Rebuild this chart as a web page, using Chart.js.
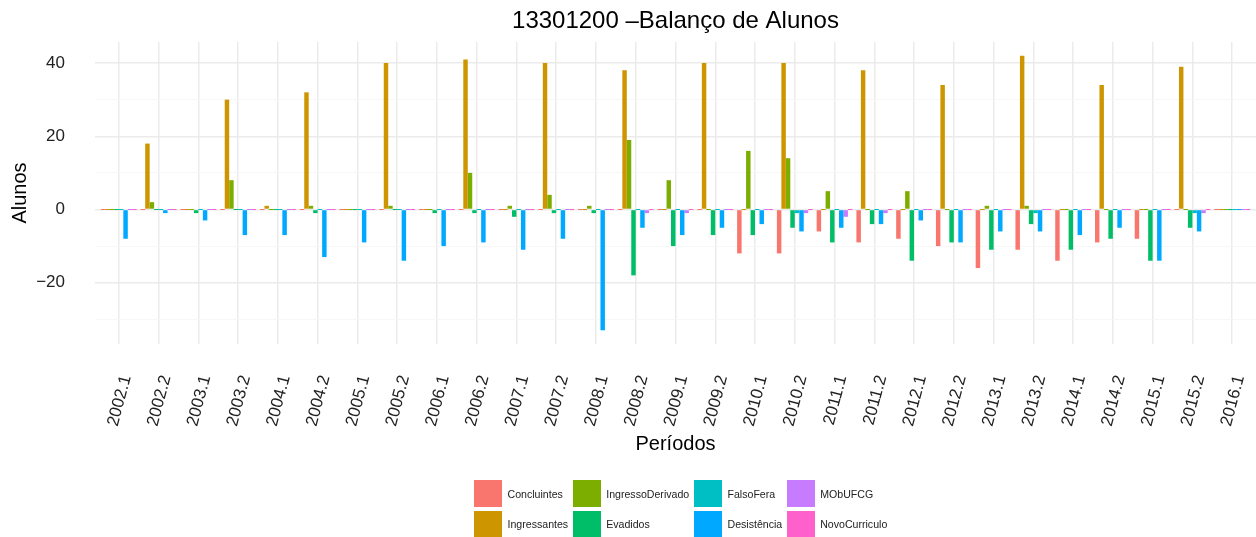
<!DOCTYPE html>
<html>
<head>
<meta charset="utf-8">
<script src="https://cdn.jsdelivr.net/npm/chart.js@4"></script>
<style>
  body { margin: 0; background: #fff; }
  #wrap { position: relative; width: 1256px; height: 537px; }
  #legend {
    position: absolute; left: 474px; top: 480px;
    display: grid; grid-auto-flow: column;
    grid-template-rows: 27px 27px; row-gap: 3.5px;
    grid-template-columns: 98.7px 121.3px 92.7px auto;
    font: 10.6px "Liberation Sans", Arial, sans-serif; color: #222;
  }
  .item { display: flex; align-items: center; }
  .box { width: 28px; height: 27px; margin-right: 5.5px; }
</style>
</head>
<body>
<div id="wrap">
  <canvas id="grafico" width="1256" height="537"></canvas>
  <div id="legend"></div>
</div>
<script>
// Dados
const PERIODOS = ['2002.1', '2002.2', '2003.1', '2003.2', '2004.1', '2004.2', '2005.1', '2005.2',
  '2006.1', '2006.2', '2007.1', '2007.2', '2008.1', '2008.2', '2009.1', '2009.2', '2010.1', '2010.2',
  '2011.1', '2011.2', '2012.1', '2012.2', '2013.1', '2013.2', '2014.1', '2014.2', '2015.1', '2015.2', '2016.1'];

const SERIES = ['Concluintes', 'Ingressantes', 'IngressoDerivado', 'Evadidos',
  'FalsoFera', 'Desistência', 'MObUFCG', 'NovoCurriculo'];

const concluintes      = [0, 0, 0, 0, 0, 0, 0, 0, 0, 0, 0, 0, 0, 0, 0, 0, -12, -12, -6, -9, -8, -10, -16, -11, -14, -9, -8, 0, 0];
const ingressantes     = [0, 18, 0, 30, 1, 32, 0, 40, 0, 41, 0, 40, 0, 38, 0, 40, 0, 40, 0, 38, 0, 34, 0, 42, 0, 34, 0, 39, 0];
const ingressoDerivado = [0, 2, 0, 8, 0, 1, 0, 1, 0, 10, 1, 4, 1, 19, 8, 0, 16, 14, 5, 0, 5, 0, 1, 1, 0, 0, 0, 0, 0];
const evadidos         = [0, 0, -1, 0, 0, -1, 0, 0, -1, -1, -2, -1, -1, -18, -10, -7, -7, -5, -9, -4, -14, -9, -11, -4, -11, -8, -14, -5, 0];
const falsoFera        = [0, 0, 0, 0, 0, 0, 0, 0, 0, 0, 0, 0, 0, 0, 0, 0, 0, -1, 0, 0, 0, 0, 0, -1, 0, 0, 0, -1, 0];
const desistencia      = [-8, -1, -3, -7, -7, -13, -9, -14, -10, -9, -11, -8, -33, -5, -7, -5, -4, -6, -5, -4, -3, -9, -6, -6, -7, -5, -14, -6, 0];
const mobUfcg          = [0, 0, 0, 0, 0, 0, 0, 0, 0, 0, 0, 0, 0, -1, -1, 0, 0, -1, -2, -1, 0, 0, 0, 0, 0, 0, 0, -1, 0];
const novoCurriculo    = [0, 0, 0, 0, 0, 0, 0, 0, 0, 0, 0, 0, 0, 0, 0, 0, 0, 0, 0, 0, 0, 0, 0, 0, 0, 0, 0, 0, 0];

const Y_TICKS = [-30, -20, -10, 0, 10, 20, 30, 40];

const VALORES = [concluintes, ingressantes, ingressoDerivado, evadidos, falsoFera, desistencia, mobUfcg, novoCurriculo];
const CORES = ['#F8766D', '#CD9600', '#7CAE00', '#00BE67', '#00BFC4', '#00A9FF', '#C77CFF', '#FF61CC'];

Chart.defaults.font.family = '"Liberation Sans", Arial, sans-serif';

const isMajor = v => v % 20 === 0;

new Chart(document.getElementById('grafico'), {
  type: 'bar',
  data: {
    datasets: SERIES.map((nome, k) => ({
      label: nome,
      data: VALORES[k].map((v, i) => ({ x: i + 1, y: v })),
      backgroundColor: CORES[k],
      categoryPercentage: 0.9,
      barPercentage: 1,
      minBarLength: 1
    }))
  },
  options: {
    responsive: false,
    animation: false,
    devicePixelRatio: 1,
    layout: { padding: { top: 0, left: 0, right: 0, bottom: 81 } },
    plugins: {
      legend: { display: false },
      tooltip: { enabled: false },
      title: {
        display: true,
        text: '13301200 –Balanço de Alunos',
        fullSize: false,
        color: '#000',
        font: { size: 24, weight: 'normal' },
        padding: { top: 6.6, bottom: 6.6 }
      }
    },
    scales: {
      x: {
        type: 'linear',
        offset: false,
        min: 0.4,
        max: 29.6,
        afterBuildTicks: s => { s.ticks = PERIODOS.map((_, i) => ({ value: i + 1 })); },
        afterFit: s => { s.height = 112; s.paddingLeft = 0; s.paddingRight = 0; },
        ticks: {
          autoSkip: false,
          minRotation: 75,
          maxRotation: 75,
          padding: 29,
          labelOffset: 7.5,
          color: '#222',
          font: { size: 17 },
          callback: v => PERIODOS[v - 1]
        },
        grid: { offset: false, color: '#EBEBEB', lineWidth: 1.5, drawTicks: false },
        border: { display: false },
        title: {
          display: true,
          text: 'Períodos',
          color: '#000',
          font: { size: 20 },
          padding: { top: 1.4, bottom: 0 }
        }
      },
      y: {
        min: -36.75,
        max: 45.75,
        afterBuildTicks: s => { s.ticks = Y_TICKS.map(v => ({ value: v })); },
        afterFit: s => { s.width = 95; s.paddingTop = 0; s.paddingBottom = 0; },
        ticks: {
          padding: 30,
          color: '#222',
          font: { size: 17 },
          callback: v => isMajor(v) ? String(v).replace('-', '\u2212') : ''
        },
        grid: {
          color: c => isMajor(c.tick.value) ? '#EBEBEB' : '#F5F5F5',
          lineWidth: c => isMajor(c.tick.value) ? 1.5 : 0.8,
          drawTicks: false
        },
        border: { display: false },
        title: {
          display: true,
          text: 'Alunos',
          color: '#000',
          font: { size: 20 },
          padding: { top: 8, bottom: 0 }
        }
      }
    }
  }
});

// Legenda (duas linhas, preenchida por coluna como no ggplot)
const legend = document.getElementById('legend');
SERIES.forEach((nome, k) => {
  const item = document.createElement('div');
  item.className = 'item';
  const box = document.createElement('span');
  box.className = 'box';
  box.style.background = CORES[k];
  const txt = document.createElement('span');
  txt.textContent = nome;
  item.appendChild(box);
  item.appendChild(txt);
  legend.appendChild(item);
});
</script>
</body>
</html>
